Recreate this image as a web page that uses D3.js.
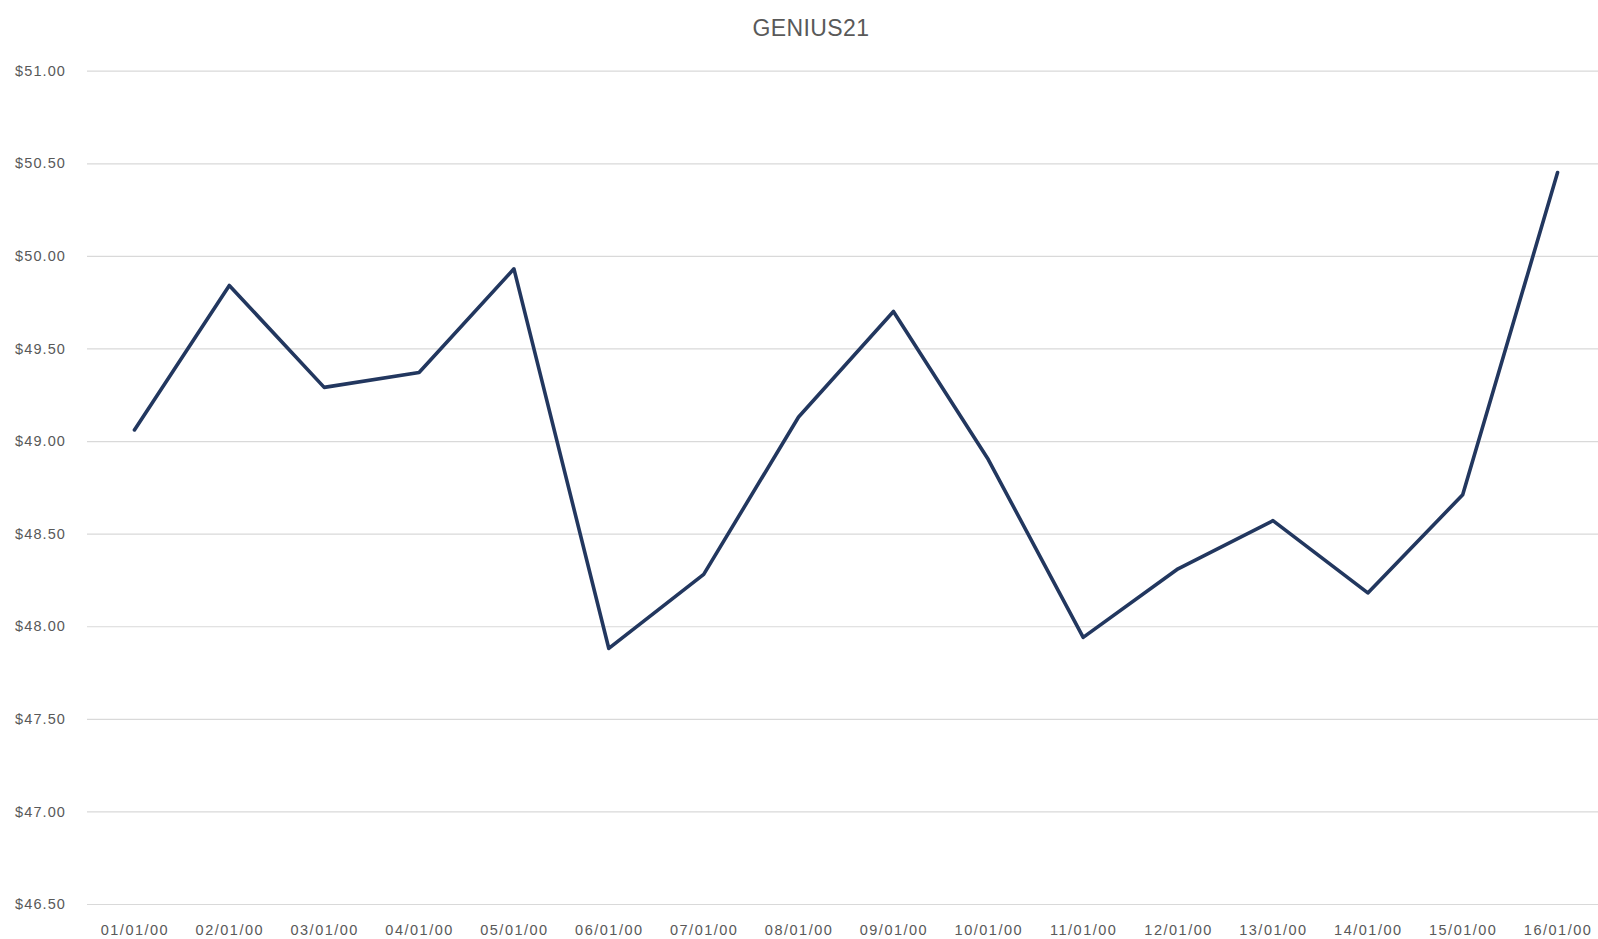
<!DOCTYPE html>
<html>
<head>
<meta charset="utf-8">
<script src="https://cdn.jsdelivr.net/npm/d3@7"></script>
<style>
  html, body { margin: 0; padding: 0; background: #ffffff; }
  svg { display: block; }
</style>
</head>
<body>
<svg id="chart" width="1598" height="939"></svg>
<script>
const chartTitle = "GENIUS21";
const categories = ["01/01/00","02/01/00","03/01/00","04/01/00","05/01/00","06/01/00","07/01/00","08/01/00",
                    "09/01/00","10/01/00","11/01/00","12/01/00","13/01/00","14/01/00","15/01/00","16/01/00"];
const prices = [49.06, 49.84, 49.29, 49.37, 49.93, 47.88, 48.28, 49.13,
                49.70, 48.90, 47.94, 48.31, 48.57, 48.18, 48.71, 50.45];
const yTicks = [46.5, 47.0, 47.5, 48.0, 48.5, 49.0, 49.5, 50.0, 50.5, 51.0];

(function () {
const svg = d3.select("#chart");
const plotLeft = 87, plotRight = 1605, plotTop = 70.7, plotBottom = 904;

const x = d3.scalePoint().domain(categories).range([plotLeft, plotRight]).padding(0.5);
const y = d3.scaleLinear().domain([46.5, 51]).range([plotBottom, plotTop]);

const textColor = "#595959";
const fontFam = "'Liberation Sans', Arial, sans-serif";

// Title
svg.append("text")
  .attr("x", 811).attr("y", 36)
  .attr("text-anchor", "middle")
  .attr("font-family", fontFam)
  .attr("font-size", 23)
  .attr("letter-spacing", 0.4)
  .attr("fill", textColor)
  .text(chartTitle);

// Y axis with gridlines
const yAxis = d3.axisLeft(y)
  .tickValues(yTicks)
  .tickSize(-(plotRight - plotLeft))
  .tickPadding(21)
  .tickFormat(d => "$" + d3.format(".2f")(d));

const gy = svg.append("g")
  .attr("transform", `translate(${plotLeft},0)`)
  .call(yAxis);
gy.select(".domain").remove();
gy.selectAll(".tick line").attr("stroke", "#d9d9d9").attr("stroke-width", 1.2);
gy.selectAll(".tick text")
  .attr("fill", textColor)
  .attr("font-family", fontFam)
  .attr("font-size", 14.5)
  .attr("letter-spacing", 1.1);

// X axis labels
const xAxis = d3.axisBottom(x).tickSize(0).tickPadding(21);
const gx = svg.append("g")
  .attr("transform", `translate(0,${plotBottom})`)
  .call(xAxis);
gx.select(".domain").remove();
gx.selectAll(".tick text")
  .attr("fill", textColor)
  .attr("font-family", fontFam)
  .attr("font-size", 14.5)
  .attr("letter-spacing", 1.5);

// Line
const line = d3.line()
  .x((d, i) => x(categories[i]))
  .y(d => y(d));

svg.append("path")
  .datum(prices)
  .attr("fill", "none")
  .attr("stroke", "#22375f")
  .attr("stroke-width", 3.6)
  .attr("stroke-linejoin", "round")
  .attr("stroke-linecap", "round")
  .attr("d", line);
})();
</script>
</body>
</html>
